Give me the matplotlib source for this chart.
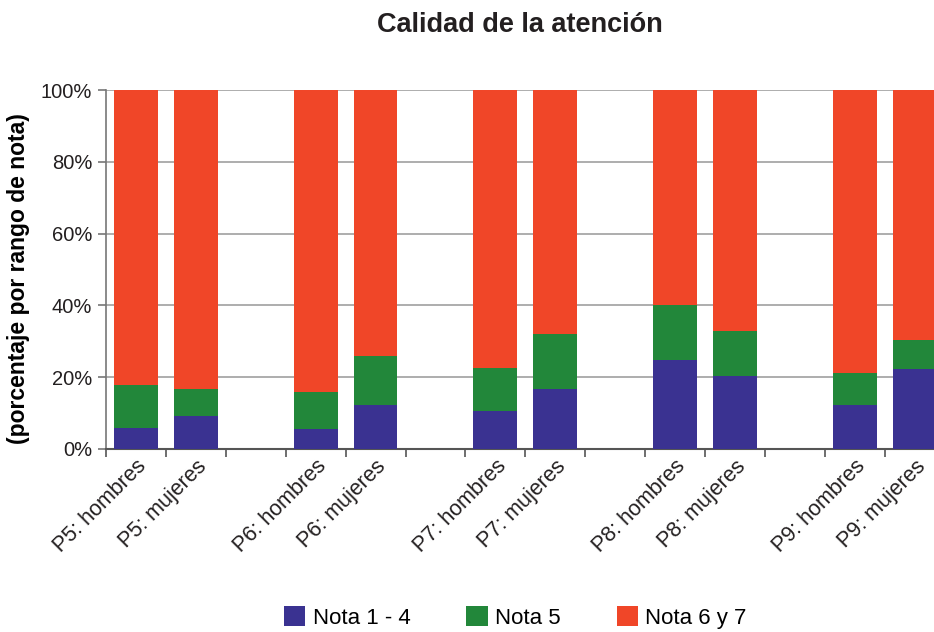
import matplotlib.pyplot as plt
import numpy as np

# data -------------------------------------------------
categorias = ["P5: hombres", "P5: mujeres", "",
              "P6: hombres", "P6: mujeres", "",
              "P7: hombres", "P7: mujeres", "",
              "P8: hombres", "P8: mujeres", "",
              "P9: hombres", "P9: mujeres"]
nota_1_4 = [5.8, 9.2, 0, 5.6, 12.3, 0, 10.6, 16.7, 0, 24.8, 20.3, 0, 12.3, 22.3]
nota_5 = [12.0, 7.4, 0, 10.3, 13.6, 0, 12.0, 15.4, 0, 15.3, 12.6, 0, 8.9, 8.1]
nota_6_7 = [82.2, 83.4, 0, 84.1, 74.1, 0, 77.4, 67.9, 0, 59.9, 67.1, 0, 78.8, 69.6]
series_labels = ["Nota 1 - 4", "Nota 5", "Nota 6 y 7"]
y_ticks = [0, 20, 40, 60, 80, 100]

colores = ["#3a3291", "#22873a", "#f04628"]
# -------------------------------------------------------

plt.rcParams['font.family'] = ['Liberation Sans', 'DejaVu Sans']

fig = plt.figure(figsize=(9.34, 6.32), dpi=100)
ax = fig.add_axes([106/934, (632-449)/632, 838.6/934, 359/632])

x = np.arange(len(categorias))
gap = [c == "" for c in categorias]
b = np.array(nota_1_4)
g = np.array(nota_5)
r = np.array(nota_6_7)
keep = ~np.array(gap)

ax.bar(x[keep], b[keep], width=0.73, color=colores[0], label=series_labels[0], zorder=3)
ax.bar(x[keep], g[keep], width=0.73, bottom=b[keep], color=colores[1], label=series_labels[1], zorder=3)
ax.bar(x[keep], r[keep], width=0.73, bottom=(b+g)[keep], color=colores[2], label=series_labels[2], zorder=3)

ax.set_xlim(-0.5, len(categorias)-0.5)
ax.set_ylim(0, 100)
ax.set_yticks(y_ticks)
ax.set_yticklabels([f"{t}%" for t in y_ticks], fontsize=14.5, color="#231f20")
ax.yaxis.grid(True, color="#a0a0a0", linewidth=1.2, zorder=0)

ax.set_xticks(x)
ax.set_xticklabels(categorias, rotation=45, ha='right', va='top',
                   rotation_mode='anchor', fontsize=15.5, color="#231f20")
ax.tick_params(axis='x', which='major', length=0, pad=5)
ax.set_xticks(np.arange(-0.5, len(categorias)), minor=True)
ax.tick_params(axis='x', which='minor', length=6, width=1.2, color="#555555", direction='out')
ax.tick_params(axis='y', length=6, width=1.2, color="#777777", pad=4)

for s in ['top', 'right']:
    ax.spines[s].set_visible(False)
ax.spines['left'].set_color("#777777")
ax.spines['left'].set_linewidth(1.2)
ax.spines['bottom'].set_color("#555555")
ax.spines['bottom'].set_linewidth(1.5)

ax.set_ylabel("(porcentaje por rango de nota)", fontsize=16.5, fontweight='bold')
ax.yaxis.set_label_coords(-0.091, 0.475)

fig.text(0.557, 0.96, "Calidad de la atención", fontsize=19.5, fontweight='bold',
         ha='center', va='center', color="#231f20")

fig.legend(loc='center', bbox_to_anchor=(0.552, 0.023), ncol=3, frameon=False,
           fontsize=16, handlelength=0.95, handleheight=0.95, columnspacing=2.5,
           handletextpad=0.35)

plt.savefig("out.png", dpi=100)
